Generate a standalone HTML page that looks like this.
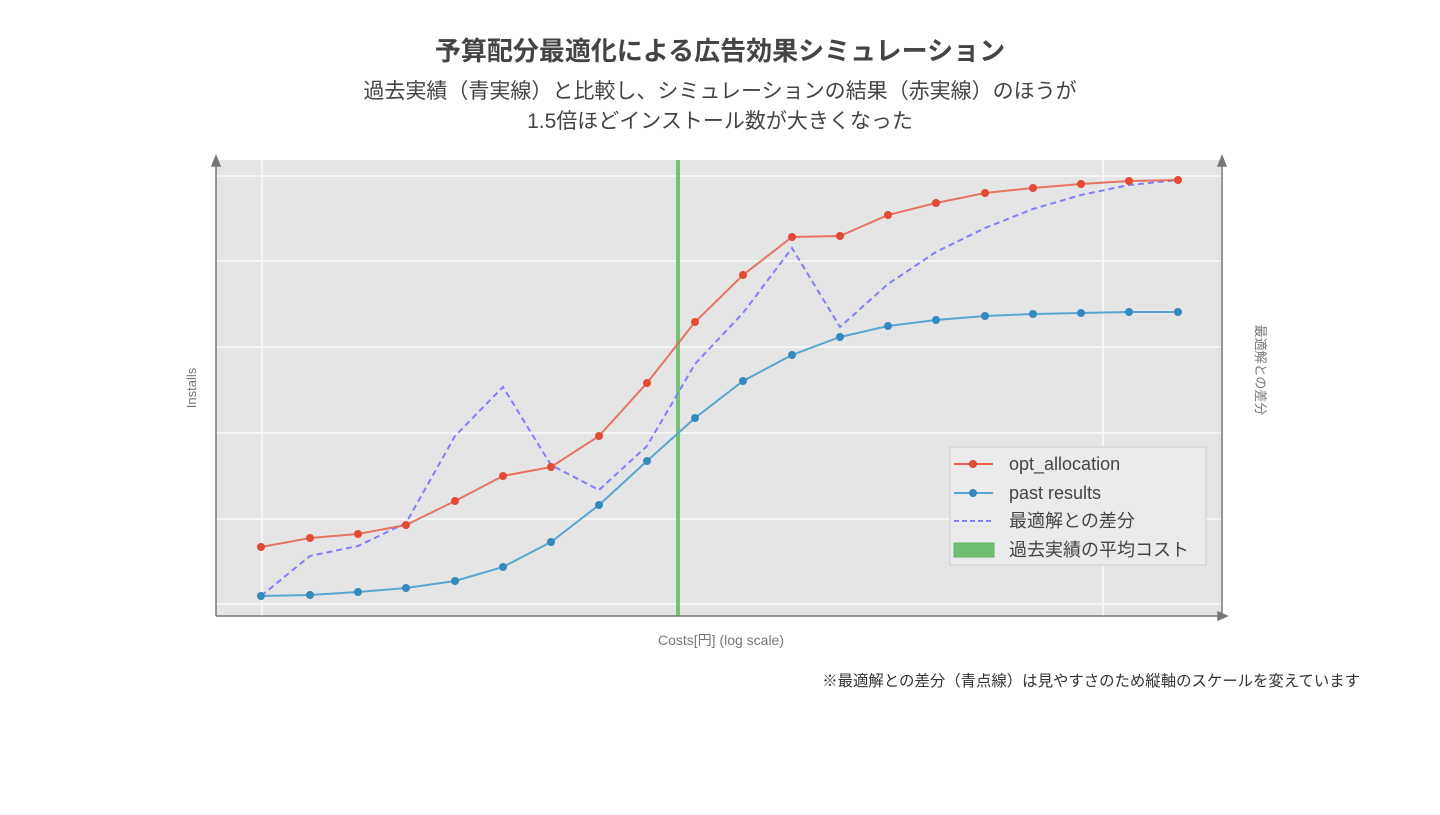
<!DOCTYPE html>
<html><head><meta charset="utf-8"><style>
body{margin:0;background:#fff;width:1440px;height:810px;overflow:hidden;font-family:"Liberation Sans","Noto Sans CJK JP",sans-serif;}
</style></head><body>
<svg width="1440" height="810" xmlns="http://www.w3.org/2000/svg" font-family="Liberation Sans, Noto Sans CJK JP, sans-serif">
<text x="720" y="60" text-anchor="middle" font-size="26" font-weight="bold" fill="#444">予算配分最適化による広告効果シミュレーション</text>
<text x="720" y="98" text-anchor="middle" font-size="21" fill="#444">過去実績（青実線）と比較し、シミュレーションの結果（赤実線）のほうが</text>
<text x="720" y="128" text-anchor="middle" font-size="21" fill="#444">1.5倍ほどインストール数が大きくなった</text>
<rect x="216" y="160" width="1006" height="456" fill="#e5e5e5"/>
<g stroke="#f5f5f5" stroke-width="2">
<line x1="216" y1="176" x2="1222" y2="176"/><line x1="216" y1="261" x2="1222" y2="261"/><line x1="216" y1="347" x2="1222" y2="347"/><line x1="216" y1="433" x2="1222" y2="433"/><line x1="216" y1="519" x2="1222" y2="519"/><line x1="216" y1="604" x2="1222" y2="604"/>
<line x1="262" y1="160" x2="262" y2="616"/><line x1="1103" y1="160" x2="1103" y2="616"/>
</g>
<line x1="678" y1="160" x2="678" y2="616" stroke="#5cb85c" stroke-width="4" opacity="0.8"/>
<g stroke="#777" stroke-width="1.5" fill="#777">
<line x1="216" y1="616" x2="216" y2="160"/><polygon points="212,166 220,166 216,156"/>
<line x1="216" y1="616" x2="1222" y2="616"/><polygon points="1218,612 1218,620 1227,616"/>
<line x1="1222" y1="616" x2="1222" y2="160"/><polygon points="1218,166 1226,166 1222,156"/>
</g>
<polyline fill="none" stroke="#8080ff" stroke-width="2" stroke-dasharray="6,4" points="261,596 310,556 358,546 406,523 455,436 503,387 551,465 599,490 647,446 695,364 743,313 792,248 840,327 888,284 936,252 985,228 1033,209 1081,195 1129,185 1178,180"/>
<g fill="none" stroke="#e8604c" stroke-width="2" stroke-opacity="0.85"><polyline points="261,547 310,538 358,534 406,525 455,501 503,476 551,467 599,436 647,383 695,322 743,275 792,237 840,236 888,215 936,203 985,193 1033,188 1081,184 1129,181 1178,180"/></g>
<g fill="#e24a33">
<circle cx="261" cy="547" r="4"/><circle cx="310" cy="538" r="4"/><circle cx="358" cy="534" r="4"/><circle cx="406" cy="525" r="4"/><circle cx="455" cy="501" r="4"/><circle cx="503" cy="476" r="4"/><circle cx="551" cy="467" r="4"/><circle cx="599" cy="436" r="4"/><circle cx="647" cy="383" r="4"/><circle cx="695" cy="322" r="4"/><circle cx="743" cy="275" r="4"/><circle cx="792" cy="237" r="4"/><circle cx="840" cy="236" r="4"/><circle cx="888" cy="215" r="4"/><circle cx="936" cy="203" r="4"/><circle cx="985" cy="193" r="4"/><circle cx="1033" cy="188" r="4"/><circle cx="1081" cy="184" r="4"/><circle cx="1129" cy="181" r="4"/><circle cx="1178" cy="180" r="4"/>
</g>
<polyline fill="none" stroke="#5aa5d0" stroke-width="2" points="261,596 310,595 358,592 406,588 455,581 503,567 551,542 599,505 647,461 695,418 743,381 792,355 840,337 888,326 936,320 985,316 1033,314 1081,313 1129,312 1178,312"/>
<g fill="#348abd">
<circle cx="261" cy="596" r="4"/><circle cx="310" cy="595" r="4"/><circle cx="358" cy="592" r="4"/><circle cx="406" cy="588" r="4"/><circle cx="455" cy="581" r="4"/><circle cx="503" cy="567" r="4"/><circle cx="551" cy="542" r="4"/><circle cx="599" cy="505" r="4"/><circle cx="647" cy="461" r="4"/><circle cx="695" cy="418" r="4"/><circle cx="743" cy="381" r="4"/><circle cx="792" cy="355" r="4"/><circle cx="840" cy="337" r="4"/><circle cx="888" cy="326" r="4"/><circle cx="936" cy="320" r="4"/><circle cx="985" cy="316" r="4"/><circle cx="1033" cy="314" r="4"/><circle cx="1081" cy="313" r="4"/><circle cx="1129" cy="312" r="4"/><circle cx="1178" cy="312" r="4"/>
</g>
<rect x="950" y="447" width="256" height="118" fill="#ebebeb" stroke="#ccc"/>
<line x1="954" y1="464" x2="993" y2="464" stroke="#e8604c" stroke-width="2"/><circle cx="973" cy="464" r="4" fill="#e24a33"/>
<line x1="954" y1="493" x2="993" y2="493" stroke="#5aa5d0" stroke-width="2"/><circle cx="973" cy="493" r="4" fill="#348abd"/>
<line x1="954" y1="521" x2="993" y2="521" stroke="#8080ff" stroke-width="2" stroke-dasharray="5,3"/>
<rect x="954" y="543" width="40" height="14" fill="#6fbf73" stroke="#5cb85c"/>
<g font-size="18" fill="#444">
<text x="1009" y="470">opt_allocation</text>
<text x="1009" y="499">past results</text>
<text x="1009" y="527">最適解との差分</text>
<text x="1009" y="556">過去実績の平均コスト</text>
</g>
<text x="721" y="645" text-anchor="middle" font-size="14" fill="#777">Costs[円] (log scale)</text>
<text transform="translate(196,388) rotate(-90)" text-anchor="middle" font-size="13" fill="#777">Installs</text>
<text transform="translate(1256,370) rotate(90)" text-anchor="middle" font-size="13" fill="#777">最適解との差分</text>
<text x="1360" y="686" text-anchor="end" font-size="15.4" fill="#333">※最適解との差分（青点線）は見やすさのため縦軸のスケールを変えています</text>
</svg>
</body></html>
